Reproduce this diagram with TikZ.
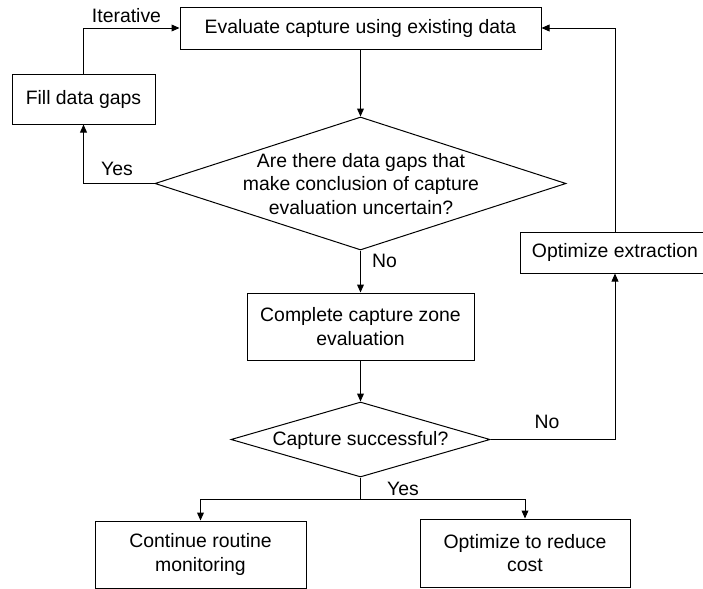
\documentclass[tikz,border=0pt]{standalone}
\usepackage{fontspec}
\setmainfont{Liberation Sans}
\usetikzlibrary{shapes.geometric,arrows.meta}

\begin{document}
\begin{tikzpicture}[x=0.5pt,y=-0.5pt,
  font=\fontsize{9.7}{11.75}\selectfont,
  line width=0.5pt,
  >={Triangle[length=4pt,width=3.4pt]},
  stepbox/.style={draw,rectangle,align=center,inner sep=0pt},
  choice/.style={draw,diamond,inner sep=0pt}]
  \useasboundingbox (0,0) rectangle (703,589);

  \node[stepbox,minimum width=180.5pt,minimum height=21pt] (eval) at (360.5,28) {Evaluate capture using existing data};
  \node[stepbox,minimum width=71.5pt,minimum height=25pt] (fill) at (83.5,99) {Fill data gaps};
  \node[choice,minimum width=205.5pt,minimum height=66.5pt] (gaps) at (360.5,183.5) {};
  \node[align=center] (gapstext) at (361,184) {Are there data gaps that\\make conclusion of capture\\evaluation uncertain?};
  \node[stepbox,minimum width=113.5pt,minimum height=33.5pt] (complete) at (360.5,326.5) {Complete capture zone\\evaluation};
  \node[choice,minimum width=129.5pt,minimum height=37.5pt] (success) at (360.5,439.5) {};
  \node (successtext) at (360.5,440) {Capture successful?};
  \node[stepbox,minimum width=95pt,minimum height=20.5pt] (optext) at (615,252.5) {Optimize extraction};
  \node[stepbox,minimum width=105.5pt,minimum height=33.5pt] (routine) at (200.5,554.5) {Continue routine\\monitoring};
  \node[stepbox,minimum width=105pt,minimum height=34pt] (reduce) at (525,553) {Optimize to reduce\\cost};

  \node (iterlbl) at (126.5,16) {Iterative};
  \node (yesgap) at (117,169) {Yes};
  \node (nogap) at (384.5,261) {No};
  \node (nosucc) at (547,421.5) {No};
  \node (yessucc) at (403,488.5) {Yes};

  \draw[->] (eval) -- (gaps);
  \draw[->] (gaps.west) -| (fill.south);
  \draw[->] (fill.north) |- (eval.west);
  \draw[->] (gaps) -- (complete);
  \draw[->] (complete) -- (success);
  \draw[->] (success.east) -| (optext.south);
  \draw[->] (optext.north) |- (eval.east);
  \coordinate (split) at (360.5,499);
  \draw (success.south) -- (split);
  \draw[->] (split) -| (routine.north);
  \draw[->] (split) -| (reduce.north);
\end{tikzpicture}
\end{document}
